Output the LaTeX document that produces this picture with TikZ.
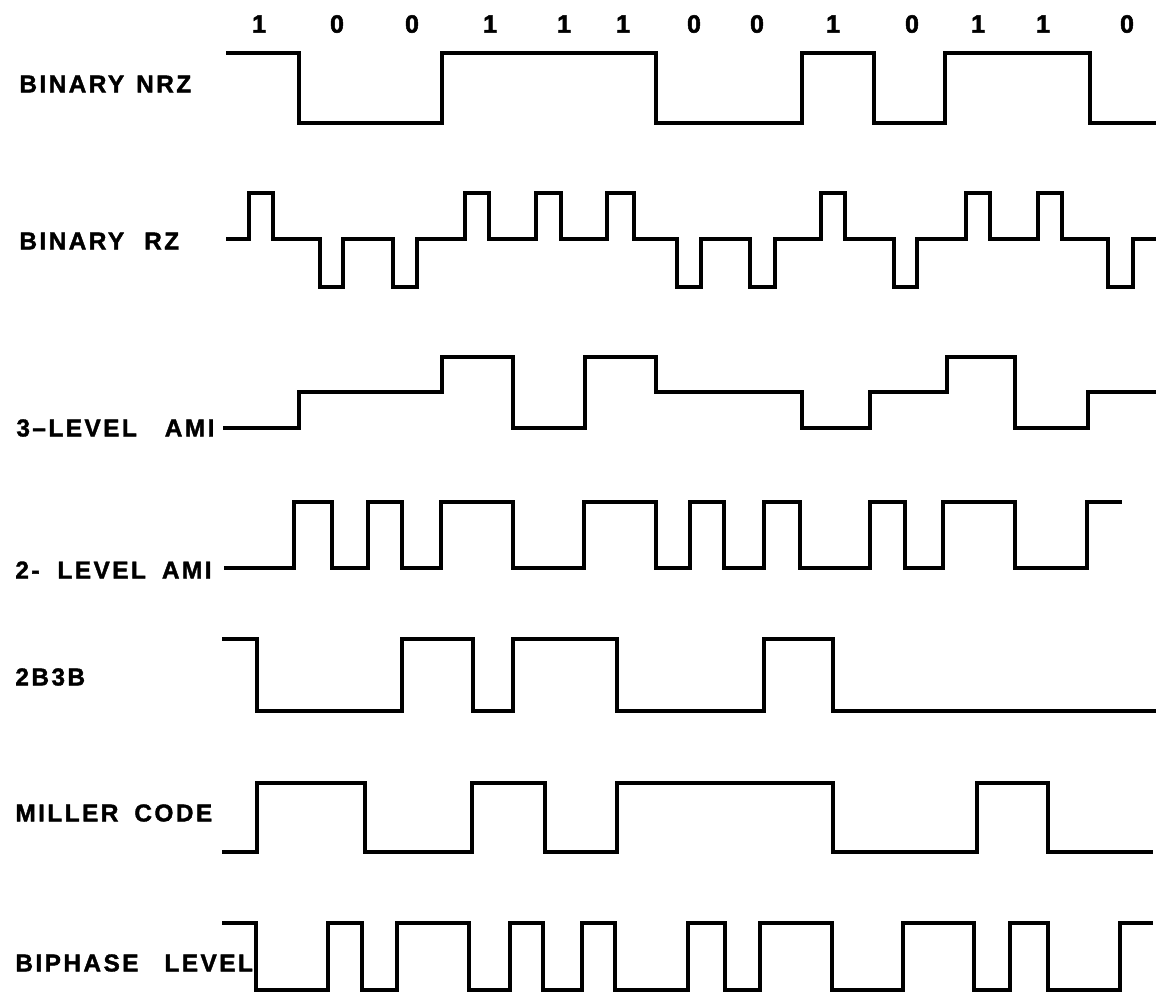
\documentclass[tikz,border=0pt]{standalone}
\usepackage{fontspec}
\setmainfont{Liberation Sans}
\newfontfamily\lblfont[LetterSpace=10, FakeBold=1.6]{Liberation Sans Bold}
\newfontfamily\digfont[FakeBold=2]{Liberation Sans Bold}
\usetikzlibrary{positioning}

\tikzset{
  wave/.style={line width=1.7pt, line join=miter},
  lbl/.style={anchor=west, inner sep=0pt, font=\lblfont\fontsize{12.2}{14}\selectfont},
  bitlbl/.style={inner sep=0pt, font=\digfont\fontsize{12.5}{14}\selectfont}
}

\begin{document}
\begin{tikzpicture}[x=0.5pt, y=-0.5pt]
  \useasboundingbox (0,0) rectangle (1156,993);

  % data bits
  \node[bitlbl] (d1)  at (259,24)  {1};
  \node[bitlbl] (d2)  at (337,24)  {0};
  \node[bitlbl] (d3)  at (412,24)  {0};
  \node[bitlbl] (d4)  at (490,24)  {1};
  \node[bitlbl] (d5)  at (564,24)  {1};
  \node[bitlbl] (d6)  at (623,24)  {1};
  \node[bitlbl] (d7)  at (694,24)  {0};
  \node[bitlbl] (d8)  at (757,24)  {0};
  \node[bitlbl] (d9)  at (833,24)  {1};
  \node[bitlbl] (d10) at (912,24)  {0};
  \node[bitlbl] (d11) at (978,24)  {1};
  \node[bitlbl] (d12) at (1043,24) {1};
  \node[bitlbl] (d13) at (1127,24) {0};

  % row names
  \node[lbl] (nrz)    at (19,84)  {BINARY\hspace{6pt}NRZ};
  \node[lbl] (rz)     at (19,241) {BINARY\hspace{10pt}RZ};
  \node[lbl] (amithree) at (16,428) {3–LEVEL\hspace{14pt}AMI};
  \node[lbl] (amitwo) at (15,570) {2-\hspace{9pt}LEVEL\hspace{8pt}AMI};
  \node[lbl] (tbtb)   at (15,677) {2B3B};
  \node[lbl] (miller) at (15,813) {MILLER\hspace{8pt}CODE};
  \node[lbl] (biph)   at (15,963) {BIPHASE\hspace{13pt}LEVEL};

  % binary NRZ
  \draw[wave] (226,53) -| (299,123) -| (442,53) -| (656,123) -| (802,53)
    -| (874,123) -| (945,53) -| (1090,123) -- (1156,123);

  % binary RZ
  \draw[wave] (226,239) -| (249,193) -| (273,239) -| (320,287) -| (343,239)
    -| (393,287) -| (417,239) -| (465,193) -| (489,239) -| (536,193)
    -| (561,239) -| (607,193) -| (634,239) -| (677,287) -| (701,239)
    -| (750,287) -| (775,239) -| (821,193) -| (845,239) -| (894,287)
    -| (917,239) -| (966,193) -| (990,239) -| (1038,193) -| (1062,239)
    -| (1108,287) -| (1133,239) -- (1156,239);

  % 3-level AMI
  \draw[wave] (223,428) -| (299,392) -| (442,357) -| (513,428) -| (585,357)
    -| (656,392) -| (802,428) -| (870,392) -| (947,357) -| (1015,428)
    -| (1088,392) -- (1156,392);

  % 2-level AMI
  \draw[wave] (224,568) -| (294,502) -| (332,568) -| (368,502) -| (402,568)
    -| (441,502) -| (513,568) -| (584,502) -| (656,568) -| (690,502)
    -| (724,568) -| (764,502) -| (800,568) -| (870,502) -| (905,568)
    -| (943,502) -| (1015,568) -| (1087,502) -- (1122,502);

  % 2B3B
  \draw[wave] (222,639) -| (257,711) -| (402,639) -| (473,711) -| (513,639)
    -| (617,711) -| (764,639) -| (833,711) -- (1156,711);

  % Miller code
  \draw[wave] (222,852) -| (257,783) -| (365,852) -| (472,783) -| (545,852)
    -| (617,783) -| (833,852) -| (977,783) -| (1048,852) -- (1153,852);

  % biphase level
  \draw[wave] (222,923) -| (256,990) -| (328,923) -| (362,990) -| (397,923)
    -| (469,990) -| (510,923) -| (543,990) -| (582,923) -| (615,990)
    -| (688,923) -| (725,990) -| (760,923) -| (832,990) -| (903,923)
    -| (974,990) -| (1010,923) -| (1048,990) -| (1120,923) -- (1153,923);
\end{tikzpicture}
\end{document}
